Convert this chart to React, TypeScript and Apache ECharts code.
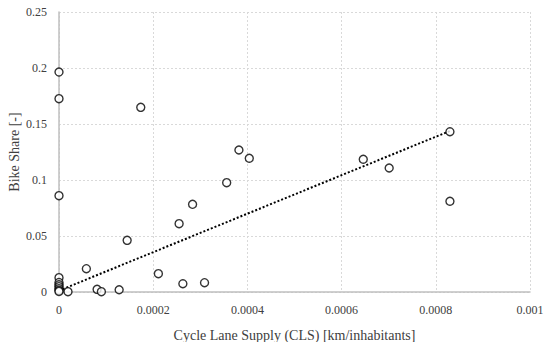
import React, { useEffect, useRef } from "react";
import * as echarts from "echarts";

const clsValues = [
  0, 0, 0, 0.0001736, 0.0000581, 0.0001447, 0, 0, 0, 0, 0, 0, 0,
  0.0000191, 0.0000809, 0.00009, 0.0001277, 0.000211, 0.000263, 0.000255,
  0.0002836, 0.000382, 0.000404, 0.000356, 0.000309, 0.000646, 0.000701,
  0.00083, 0.00083,
];
const bikeShareValues = [
  0.1964, 0.1726, 0.086, 0.1649, 0.0208, 0.0461, 0.0128, 0.0085, 0.0065,
  0.0048, 0.003, 0.0015, 0.0005, 0.0003, 0.0024, 0.0003, 0.002, 0.0164,
  0.0074, 0.061, 0.0783, 0.1268, 0.1194, 0.0976, 0.0083, 0.1185, 0.1107,
  0.1431, 0.081,
];
const trendX = [0, 0.00083];
const trendY = [0.0012, 0.1438];
const xTicks = [0, 0.0002, 0.0004, 0.0006, 0.0008, 0.001];
const yTicks = [0, 0.05, 0.1, 0.15, 0.2, 0.25];

const FONT = "Liberation Serif";
const TEXT = "#404040";

export default function App() {
  const ref = useRef<HTMLDivElement>(null);
  useEffect(() => {
    if (!ref.current) return;
    const chart = echarts.init(ref.current, undefined, { renderer: "svg" });
    const points = clsValues.map((x, i) => [x, bikeShareValues[i]]);
    const trend = trendX.map((x, i) => [x, trendY[i]]);
    chart.setOption({
      animation: false,
      backgroundColor: "#ffffff",
      textStyle: { fontFamily: FONT },
      grid: {
        left: 59,
        right: 20,
        top: 12,
        bottom: 50,
        containLabel: false,
        outerBoundsMode: "none",
      },
      xAxis: {
        type: "value",
        min: xTicks[0],
        max: xTicks[xTicks.length - 1],
        interval: 0.0002,
        name: "Cycle Lane Supply (CLS) [km/inhabitants]",
        nameLocation: "middle",
        nameGap: 36,
        nameMoveOverlap: false,
        nameTextStyle: { fontFamily: FONT, fontSize: 14, color: TEXT },
        axisLine: { show: true, lineStyle: { color: "#bfbfbf", width: 1.5 } },
        axisTick: { show: false },
        axisLabel: {
          fontFamily: FONT,
          fontSize: 12,
          color: TEXT,
          margin: 12,
          formatter: (v: number) => String(Number(v.toFixed(4))),
        },
        splitLine: { show: true, lineStyle: { color: "#d9d9d9", type: [2, 2], width: 1 } },
      },
      yAxis: {
        type: "value",
        min: yTicks[0],
        max: yTicks[yTicks.length - 1],
        interval: 0.05,
        name: "Bike Share [-]",
        nameLocation: "middle",
        nameGap: 38,
        nameMoveOverlap: false,
        nameTextStyle: { fontFamily: FONT, fontSize: 14, color: TEXT },
        axisLine: { show: true, lineStyle: { color: "#bfbfbf", width: 1.5 } },
        axisTick: { show: false },
        axisLabel: {
          fontFamily: FONT,
          fontSize: 12,
          color: TEXT,
          margin: 12,
          formatter: (v: number) => String(Number(v.toFixed(2))),
        },
        splitLine: { show: true, lineStyle: { color: "#d9d9d9", type: [2, 2], width: 1 } },
      },
      series: [
        {
          type: "line",
          data: trend,
          symbol: "none",
          lineStyle: { color: "#000000", width: 2, type: [2, 2] },
          z: 1,
        },
        {
          type: "scatter",
          data: points,
          symbol: "circle",
          symbolSize: 8,
          itemStyle: { color: "#ffffff", borderColor: "#000000", borderWidth: 1.4 },
          z: 2,
        },
      ],
    });
    return () => chart.dispose();
  }, []);
  return <div ref={ref} style={{ width: 550, height: 342, position: "absolute", left: 0, top: 0 }} />;
}
